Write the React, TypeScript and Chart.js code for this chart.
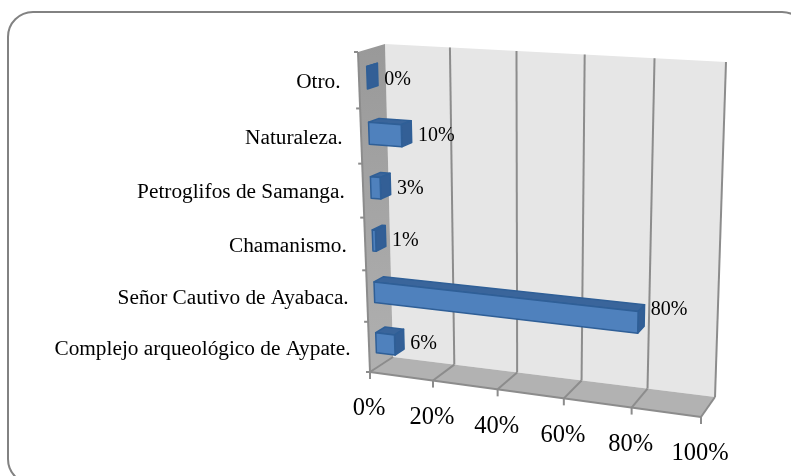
import React, { useEffect, useRef } from "react";
import { Chart, registerables } from "chart.js";

Chart.register(...registerables);

const categories = [
  "Otro.",
  "Naturaleza.",
  "Petroglifos de Samanga.",
  "Chamanismo.",
  "Señor Cautivo de Ayabaca.",
  "Complejo arqueológico de Aypate.",
];
const shares = [0, 10, 3, 1, 80, 6];

const FONT = '"Liberation Serif", "Times New Roman", serif';

// 3D box of the plot: corners of the front and back planes
const FBL = [370, 372], FBR = [701, 417], FTL = [358, 52], FTR = [712, 74.5];
const BBL = [393, 357], BBR = [715, 397], BTL = [385, 44], BTR = [726, 62];
const BAR_D0 = 0.3, BAR_D1 = 0.7;

const mix = (a: number, b: number, t: number) => a + (b - a) * t;
const project = (u: number, v: number, d: number): [number, number] => {
  const uu = u - 0.06 * u * (1 - u);
  const vv = v - 0.07 * v * (1 - v);
  const at = (i: number) => {
    const fb = mix(FBL[i], FBR[i], uu), ft = mix(FTL[i], FTR[i], uu);
    const bb = mix(BBL[i], BBR[i], uu), bt = mix(BTL[i], BTR[i], uu);
    return mix(mix(fb, ft, vv), mix(bb, bt, vv), d);
  };
  return [at(0), at(1)];
};

const poly = (ctx: CanvasRenderingContext2D, pts: [number, number][], fill: any, stroke?: string, lw = 1) => {
  ctx.beginPath();
  pts.forEach((p, i) => (i ? ctx.lineTo(p[0], p[1]) : ctx.moveTo(p[0], p[1])));
  ctx.closePath();
  if (fill) { ctx.fillStyle = fill; ctx.fill(); }
  if (stroke) { ctx.strokeStyle = stroke; ctx.lineWidth = lw; ctx.lineJoin = "round"; ctx.stroke(); }
};
const line = (ctx: CanvasRenderingContext2D, a: number[], b: number[], color = "#8c8c8c", lw = 2) => {
  ctx.beginPath();
  ctx.moveTo(a[0], a[1]);
  ctx.lineTo(b[0], b[1]);
  ctx.strokeStyle = color;
  ctx.lineWidth = lw;
  ctx.stroke();
};

const frame3d = {
  id: "frame3d",
  beforeDatasetsDraw(chart: any) {
    const { ctx, scales } = chart;
    const x = scales.x, y = scales.y;
    const U = (val: number) => (x.getPixelForValue(val) - x.left) / x.width;
    ctx.save();
    // card border
    ctx.beginPath();
    ctx.roundRect(8, 12, 799, 472, 25);
    ctx.strokeStyle = "#828282";
    ctx.lineWidth = 2;
    ctx.stroke();

    // back wall
    poly(ctx, [project(0, 0, 1), project(1, 0, 1), project(1, 1, 1), project(0, 1, 1)], "#e6e6e6");
    // floor
    poly(ctx, [project(0, 0, 0), project(1, 0, 0), project(1, 0, 1), project(0, 0, 1)], "#b2b2b2");
    // side wall
    const sideGrad = ctx.createLinearGradient(0, 44, 0, 372);
    sideGrad.addColorStop(0, "#999999");
    sideGrad.addColorStop(1, "#b0b0b0");
    poly(ctx, [project(0, 0, 0), project(0, 0, 1), project(0, 1, 1), project(0, 1, 0)], sideGrad);

    // value grid on back wall, floor, and ticks
    ctx.textAlign = "center";
    ctx.textBaseline = "middle";
    ctx.font = `24.5px ${FONT}`;
    x.ticks.forEach((t: any) => {
      const u = U(t.value);
      if (u > 0) line(ctx, project(u, 0, 1), project(u, 1, 1));
      line(ctx, project(u, 0, 0), project(u, 0, 1));
      const f = project(u, 0, 0);
      line(ctx, f, [f[0], f[1] + 7]);
      ctx.fillStyle = "#000";
      ctx.fillText(t.label, f[0] - 1, f[1] + 37);
    });
    // axis edges
    line(ctx, project(0, 0, 0), project(1, 0, 0));
    line(ctx, project(0, 0, 0), project(0, 1, 0));

    // category ticks and labels
    const band = y.height / categories.length;
    ctx.textAlign = "right";
    ctx.font = `21.3px ${FONT}`;
    categories.forEach((c, i) => {
      const py = y.getPixelForValue(i);
      const vc = (y.bottom - py) / y.height;
      const [lx, ly] = project(0, vc, 0);
      ctx.fillStyle = "#000";
      ctx.fillText(y.getLabelForValue(i), lx - 18.5, ly + 2);
      const edge = project(0, (y.bottom - (py + band / 2)) / y.height, 0);
      line(ctx, edge, [edge[0] - 4, edge[1]]);
    });
    const top = project(0, 1, 0);
    line(ctx, top, [top[0] - 4, top[1]]);
    ctx.restore();
  },
  afterDatasetsDraw(chart: any) {
    const { ctx, scales } = chart;
    const x = scales.x, y = scales.y;
    const meta = chart.getDatasetMeta(0);
    ctx.save();
    meta.data.forEach((bar: any, i: number) => {
      const u = (bar.x - x.left) / x.width;
      const u0 = (bar.base - x.left) / x.width;
      const v0 = (y.bottom - (bar.y + bar.height / 2)) / y.height;
      const v1 = (y.bottom - (bar.y - bar.height / 2)) / y.height;
      const edge = "#2f5f97";
      // top
      poly(ctx, [project(u0, v1, BAR_D0), project(u, v1, BAR_D0), project(u, v1, BAR_D1), project(u0, v1, BAR_D1)], "#3a659b", edge, 1.5);
      // right side
      poly(ctx, [project(u, v0, BAR_D0), project(u, v0, BAR_D1), project(u, v1, BAR_D1), project(u, v1, BAR_D0)], "#335f96", edge, 1.5);
      // front
      if (u > u0) {
        const a = project(u0, v1, BAR_D0), b = project(u0, v0, BAR_D0);
        poly(ctx, [b, project(u, v0, BAR_D0), project(u, v1, BAR_D0), a], "#4f81bd", edge, 1.5);
      }
      // data label
      const end = project(u, (v0 + v1) / 2, BAR_D1);
      ctx.fillStyle = "#000";
      ctx.font = `20px ${FONT}`;
      ctx.textAlign = "left";
      ctx.textBaseline = "middle";
      ctx.fillText(`${shares[i]}%`, end[0] + 6.5, end[1] + 5 - 14 * u);
    });
    ctx.restore();
  },
};

export default function App() {
  const ref = useRef<HTMLCanvasElement>(null);
  useEffect(() => {
    if (!ref.current) return;
    const chart = new Chart(ref.current, {
      type: "bar",
      data: {
        labels: categories,
        datasets: [
          {
            data: shares,
            backgroundColor: "transparent",
            borderWidth: 0,
            barPercentage: 0.4,
            categoryPercentage: 1,
          },
        ],
      },
      options: {
        indexAxis: "y",
        responsive: false,
        animation: false,
        layout: { padding: 0 },
        plugins: { legend: { display: false }, tooltip: { enabled: false } },
        scales: {
          x: {
            display: false,
            min: 0,
            max: 100,
            ticks: { stepSize: 20, callback: (v: any) => `${v}%` },
          },
          y: { display: false },
        },
      },
      plugins: [frame3d],
    } as any);
    return () => chart.destroy();
  }, []);
  return (
    <canvas
      ref={ref}
      width={791}
      height={476}
      style={{ position: "fixed", left: 0, top: 0, width: 791, height: 476, display: "block", background: "#fff" }}
    />
  );
}
